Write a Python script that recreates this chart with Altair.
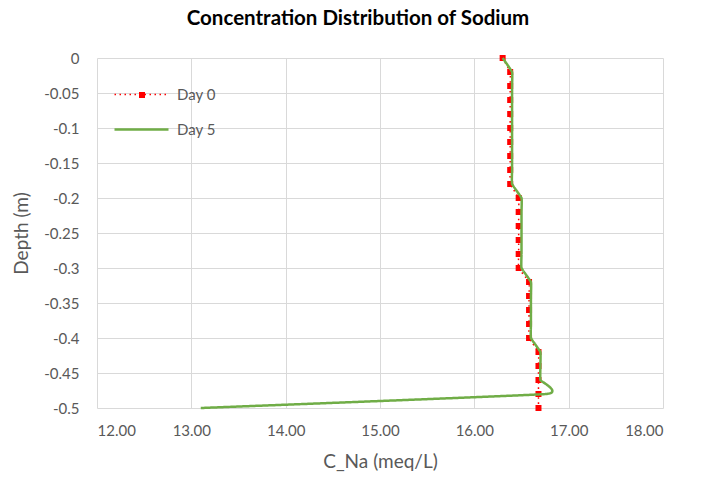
import altair as alt
import pandas as pd

# Depth below surface (m) and sodium concentration (meq/L) per sampling day
depth = [0, -0.02, -0.04, -0.06, -0.08, -0.1, -0.12, -0.14, -0.16, -0.18,
         -0.2, -0.22, -0.24, -0.26, -0.28, -0.3, -0.32, -0.34, -0.36, -0.38,
         -0.4, -0.42, -0.44, -0.46, -0.48, -0.5]
day0 = [16.30, 16.38, 16.38, 16.38, 16.38, 16.38, 16.38, 16.38, 16.38, 16.38,
        16.47, 16.47, 16.47, 16.47, 16.47, 16.47, 16.58, 16.58, 16.58, 16.58,
        16.58, 16.68, 16.68, 16.68, 16.68, 16.68]
day5 = [16.30, 16.40, 16.40, 16.40, 16.40, 16.40, 16.40, 16.40, 16.40, 16.40,
        16.50, 16.50, 16.50, 16.50, 16.50, 16.50, 16.60, 16.60, 16.60, 16.60,
        16.60, 16.70, 16.70, 16.70, 16.76, 13.10]
series_names = ["Day 0", "Day 5"]
x_ticks = [12, 13, 14, 15, 16, 17, 18]
y_ticks = [0, -0.05, -0.1, -0.15, -0.2, -0.25, -0.3, -0.35, -0.4, -0.45, -0.5]

rows = []
for name, vals in zip(series_names, [day0, day5]):
    for d, v in zip(depth, vals):
        rows.append({"series": name, "depth": d, "c_na": v})
df = pd.DataFrame(rows)

FONT = "Lato"
GREY = "#595959"

x_enc = alt.X(
    "c_na:Q",
    scale=alt.Scale(domain=[12, 18], nice=False, zero=False),
    axis=alt.Axis(values=x_ticks, format=".2f", title="C_Na (meq/L)",
                  labelPadding=15, titlePadding=14),
)
y_enc = alt.Y(
    "depth:Q",
    scale=alt.Scale(domain=[-0.5, 0], nice=False, zero=False),
    axis=alt.Axis(values=y_ticks, title="Depth (m)", labelPadding=18,
                  labelExpr="replace(format(datum.value, '.2~f'), '−', '-')",
                  titlePadding=12),
)

line_legend = alt.Legend(
    orient="none", legendX=16, legendY=19, title=None,
    symbolType="stroke", symbolSize=2916, clipHeight=35, rowPadding=0,
    labelOffset=7, labelFontSize=15, labelColor=GREY, labelFont=FONT,
    padding=0,
)

lines = alt.Chart(df).mark_line(interpolate="cardinal", tension=0.7).encode(
    x=x_enc,
    y=y_enc,
    order=alt.Order("depth:Q", sort="descending"),
    color=alt.Color("series:N",
                    scale=alt.Scale(domain=series_names, range=["#FF0000", "#70AD47"]),
                    legend=line_legend),
    strokeDash=alt.StrokeDash("series:N",
                              scale=alt.Scale(domain=series_names, range=[[1.5, 3.5], [1, 0]]),
                              legend=line_legend),
    strokeWidth=alt.StrokeWidth("series:N",
                                scale=alt.Scale(type="ordinal", domain=series_names, range=[1.5, 2.5]),
                                legend=line_legend),
)

markers = alt.Chart(df).transform_filter(
    alt.datum.series == "Day 0"
).mark_point(filled=True, size=36, color="#FF0000", opacity=1).encode(
    x=x_enc,
    y=y_enc,
    shape=alt.Shape("series:N",
                    scale=alt.Scale(domain=["Day 0"], range=["square"]),
                    legend=alt.Legend(orient="none", legendX=40, legendY=32, title=None,
                                      symbolSize=36, symbolFillColor="#FF0000",
                                      symbolStrokeColor="#FF0000", symbolStrokeWidth=0,
                                      labelExpr="''", clipHeight=10, padding=0,
                                      symbolType="square")),
)

chart = alt.layer(markers, lines).properties(
    width=566,
    height=350,
    autosize=alt.AutoSizeParams(type="none"),
    padding={"left": 97, "top": 58, "right": 43, "bottom": 69},
    background="white",
    title=alt.TitleParams(
        "Concentration Distribution of Sodium",
        font=FONT, fontSize=20.5, fontWeight="bold", color="#000000",
        anchor="middle", dx=-22, offset=6, baseline="alphabetic",
    ),
).configure_view(
    stroke=None
).configure_axis(
    grid=True, gridColor="#d9d9d9", gridWidth=1, domain=False, ticks=False,
    labelFont=FONT, labelFontSize=15, labelColor=GREY,
    titleFont=FONT, titleFontSize=19, titleColor=GREY, titleFontWeight="normal",
)

chart.save("out.html", embed_options={"renderer": "svg", "actions": False})
